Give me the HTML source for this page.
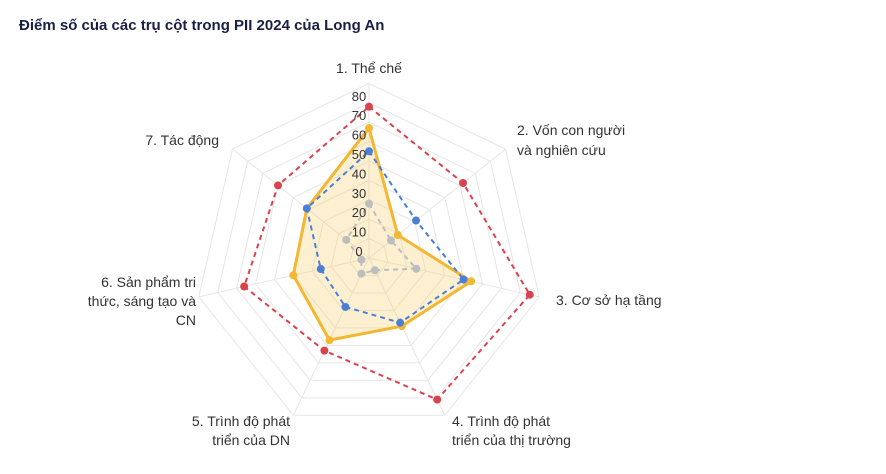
<!DOCTYPE html>
<html><head><meta charset="utf-8"><style>
body{margin:0;background:#fff;width:886px;height:474px;overflow:hidden}
svg{display:block}
text{font-family:"Liberation Sans",sans-serif}
</style></head><body>
<svg id="s" width="886" height="474" xmlns="http://www.w3.org/2000/svg">
<text x="19" y="30" font-size="15" font-weight="bold" fill="#1a1f45">Điểm số của các trụ cột trong PII 2024 của Long An</text>
<g font-size="14" fill="#333">
<text x="369" y="73" text-anchor="middle">1. Thể chế</text>
<text x="517" y="135">2. Vốn con người</text>
<text x="517" y="155">và nghiên cứu</text>
<text x="556" y="305">3. Cơ sở hạ tầng</text>
<text x="452" y="426">4. Trình độ phát</text>
<text x="452" y="445">triển của thị trường</text>
<text x="290" y="426" text-anchor="end">5. Trình độ phát</text>
<text x="290" y="445" text-anchor="end">triển của DN</text>
<text x="196" y="287" text-anchor="end">6. Sản phẩm tri</text>
<text x="196" y="306" text-anchor="end">thức, sáng tạo và</text>
<text x="196" y="325" text-anchor="end">CN</text>
<text x="219" y="145" text-anchor="end">7. Tác động</text>
</g>
<g id="grid"></g><g id="series"></g><g id="ticks" font-size="13" fill="#333"></g>
</svg>
<script>
var cx=369,cy=258,R=174.6,max=90,ns="http://www.w3.org/2000/svg";
function pt(i,v){var a=(-90+i*360/7)*Math.PI/180,r=v/max*R;return [cx+r*Math.cos(a),cy+r*Math.sin(a)];}
function el(t,at,p){var e=document.createElementNS(ns,t);for(var k in at)e.setAttribute(k,at[k]);p.appendChild(e);return e;}
var g=document.getElementById('grid');
for(var k=1;k<=9;k++){var ps=[];for(var i=0;i<7;i++)ps.push(pt(i,k*10).join(','));el('polygon',{points:ps.join(' '),fill:'none',stroke:'#e6e6e6','stroke-width':1},g);}
for(var i=0;i<7;i++){var p=pt(i,90);el('line',{x1:cx,y1:cy,x2:p[0],y2:p[1],stroke:'#e6e6e6'},g);}
var S=document.getElementById('series');
var data=[
 {v:[67,19,54,39,47,40,41],c:'#f2b733',d:'',w:3,f:'rgba(247,200,90,0.28)'},
 {v:[55,31,50,37,28,25.5,41],c:'#4a7fd4',d:'5,4',w:2,f:'none'},
 {v:[78,62,85,81,53,66,60],c:'#d9434e',d:'5,4',w:2,f:'none'},
 {v:[28,14.5,25,7,9,4,15],c:'#bdbdbd',d:'5,4',w:2,f:'none'}];
data.forEach(function(s){var ps=s.v.map(function(v,i){return pt(i,v);});
 var a={points:ps.map(function(p){return p.join(',')}).join(' '),fill:s.f,stroke:s.c,'stroke-width':s.w,'stroke-linejoin':'round'};if(s.d)a['stroke-dasharray']=s.d;el('polygon',a,S);
 ps.forEach(function(p){el('circle',{cx:p[0],cy:p[1],r:4,fill:s.c},S);});});
var T=document.getElementById('ticks');
for(var k=0;k<=8;k++){var t=el('text',{x:359,y:cy-k*10/max*R-2,'text-anchor':'middle'},T);t.textContent=k*10;}
</script>
</body></html>
